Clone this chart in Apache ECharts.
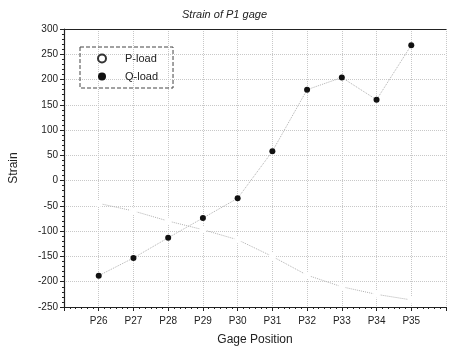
<!DOCTYPE html>
<html>
<head>
<meta charset="utf-8">
<script src="https://cdn.jsdelivr.net/npm/echarts@6/dist/echarts.min.js"></script>
<style>
  html, body { margin: 0; padding: 0; background: #fff; }
  #chart { width: 449px; height: 351px; }
</style>
</head>
<body>
<div id="chart"></div>
<script>
// gage positions along the x axis
const categories = ['P26', 'P27', 'P28', 'P29', 'P30', 'P31', 'P32', 'P33', 'P34', 'P35']
// strain readings
const pLoad = [-45, -60, -80, -97, -117, -150, -187, -210, -225, -236]
const qLoad = [-188, -153, -113, -74, -35, 58, 180, 204, 160, 268]
const yTicks = [-250, -200, -150, -100, -50, 0, 50, 100, 150, 200, 250, 300]

const font = 'Liberation Sans, Arial, sans-serif'
const chart = echarts.init(document.getElementById('chart'))

// x is a value axis so the minor ticks show; slot 0 and 11 are empty margins
const toPoints = vals => categories.map((c, i) => [i + 1, vals[i]])

const option = {
  animation: false,
  title: {
    text: 'Strain of P1 gage',
    left: 'center',
    top: 4,
    textStyle: { fontFamily: font, fontSize: 11, fontStyle: 'italic', fontWeight: 'normal', color: '#222' }
  },
  legend: {
    left: 80,
    top: 47,
    orient: 'vertical',
    itemGap: 7,
    itemWidth: 36,
    itemHeight: 8,
    padding: [6, 15, 6, 17],
    borderColor: '#444',
    borderWidth: 1,
    borderType: 'dashed',
    textStyle: { fontFamily: font, fontSize: 11, color: '#222' },
    data: [
      { name: 'P-load', icon: 'emptyCircle', itemStyle: { color: '#333', borderColor: '#333', borderWidth: 1 } },
      { name: 'Q-load', icon: 'circle', itemStyle: { color: '#111' } }
    ]
  },
  grid: { left: 62, right: 2, top: 29, bottom: 44 },
  xAxis: [
    {
      type: 'value',
      min: 0,
      max: 11,
      interval: 1,
      name: 'Gage Position',
      nameLocation: 'middle',
      nameGap: 27,
      nameTextStyle: { fontFamily: font, fontSize: 12, color: '#222' },
      axisLine: { show: true, onZero: false, lineStyle: { color: '#222', width: 1.2 } },
      axisTick: { show: true, length: 4, lineStyle: { color: '#222' } },
      minorTick: { show: true, splitNumber: 6, length: 2, lineStyle: { color: '#222' } },
      axisLabel: {
        fontFamily: font, fontSize: 10, color: '#222', margin: 9,
        formatter: v => categories[v - 1] || ''
      },
      splitLine: { show: true, lineStyle: { color: '#c8c8c8', type: 'dotted' } }
    },
    {
      type: 'value',
      position: 'top',
      min: 0,
      max: 11,
      axisLine: { show: true, onZero: false, lineStyle: { color: '#222', width: 1.2 } },
      axisTick: { show: false },
      axisLabel: { show: false },
      splitLine: { show: false }
    }
  ],
  yAxis: {
    type: 'value',
    min: yTicks[0],
    max: yTicks[yTicks.length - 1],
    interval: 50,
    name: 'Strain',
    nameLocation: 'middle',
    nameGap: 44,
    nameTextStyle: { fontFamily: font, fontSize: 12, color: '#222' },
    axisLine: { show: true, onZero: false, lineStyle: { color: '#222', width: 1.2 } },
    axisTick: { show: true, length: 4, lineStyle: { color: '#222' } },
    minorTick: { show: true, splitNumber: 5, length: 2, lineStyle: { color: '#222' } },
    axisLabel: { fontFamily: font, fontSize: 10, color: '#222', margin: 6 },
    splitLine: { show: true, lineStyle: { color: '#c8c8c8', type: 'dotted' } }
  },
  series: [
    {
      name: 'P-load',
      type: 'line',
      data: toPoints(pLoad),
      symbol: 'emptyCircle',
      symbolSize: 5,
      itemStyle: { color: '#fff', borderColor: '#e2e2e2', borderWidth: 1 },
      lineStyle: { color: '#b0b0b0', width: 1, type: 'dotted' }
    },
    {
      name: 'Q-load',
      type: 'line',
      data: toPoints(qLoad),
      symbol: 'circle',
      symbolSize: 6,
      itemStyle: { color: '#111' },
      lineStyle: { color: '#b0b0b0', width: 1, type: 'dotted' }
    }
  ]
}

chart.setOption(option)
</script>
</body>
</html>
